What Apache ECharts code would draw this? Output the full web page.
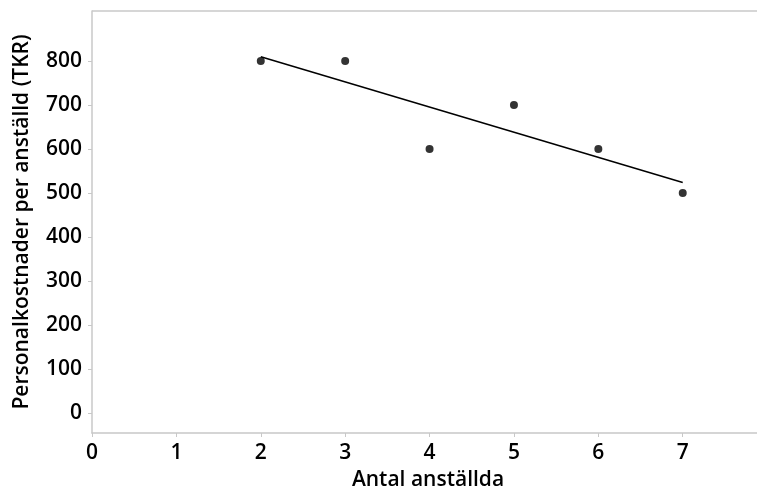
<!DOCTYPE html>
<html>
<head>
<meta charset="utf-8">
<script src="https://cdn.jsdelivr.net/npm/echarts@6/dist/echarts.min.js"></script>
<style>
  html, body { margin: 0; padding: 0; background: #fff; }
  #chart { width: 757px; height: 489px; }
</style>
</head>
<body>
<div id="chart"></div>
<script>
// antal anställda / personalkostnad per anställd
var staff = [2, 3, 4, 5, 6, 7];
var costPerStaff = [800, 800, 600, 700, 600, 500];
// fitted line (end points)
var fitX = [2, 7];
var fitY = [810, 524];
var xTicks = [0, 1, 2, 3, 4, 5, 6, 7];
var yTicks = [0, 100, 200, 300, 400, 500, 600, 700, 800];

var pts = staff.map(function (x, i) { return [x, costPerStaff[i]]; });
var line = fitX.map(function (x, i) { return [x, fitY[i]]; });

var font = '"Open Sans", sans-serif';
var grey = '#c8c8c8';

var chart = echarts.init(document.getElementById('chart'));
chart.setOption({
    animation: false,
    grid: { left: 92, top: 11, right: 0, bottom: 56, outerBoundsMode: 'none', containLabel: false },
    xAxis: {
        type: 'value',
        min: 0,
        max: 7.88,
        name: 'Antal anställda',
        nameLocation: 'middle',
        nameGap: 37,
        nameTextStyle: { fontFamily: font, fontSize: 21, fontWeight: 600, color: '#000', padding: [0, 0, 0, 7] },
        splitLine: { show: false },
        axisLine: { show: true, onZero: false, lineStyle: { color: grey, width: 1.5 } },
        axisTick: { show: true, length: 4, lineStyle: { color: grey }, customValues: xTicks },
        axisLabel: { customValues: xTicks, margin: 10, fontFamily: font, fontSize: 21, fontWeight: 600, color: '#000' }
    },
    yAxis: {
        type: 'value',
        min: -46,
        max: 914,
        name: 'Personalkostnader per anställd (TKR)',
        nameLocation: 'middle',
        nameGap: 59,
        nameTextStyle: { fontFamily: font, fontSize: 21, fontWeight: 600, color: '#000' },
        splitLine: { show: false },
        axisLine: { show: true, onZero: false, lineStyle: { color: grey, width: 1.5 } },
        axisTick: { show: true, length: 4, lineStyle: { color: grey }, customValues: yTicks },
        axisLabel: { customValues: yTicks, margin: 10, fontFamily: font, fontSize: 21, fontWeight: 600, color: '#000' }
    },
    series: [
        {
            type: 'line',
            data: line,
            showSymbol: false,
            lineStyle: { color: '#000', width: 1.5 },
            z: 2
        },
        {
            type: 'scatter',
            data: pts,
            symbolSize: 8,
            itemStyle: { color: '#000' },
            z: 3
        }
    ]
});
// top border of the plot box
chart.setOption({
    graphic: [{
        type: 'line',
        shape: { x1: 92, y1: 11, x2: 757, y2: 11 },
        style: { stroke: grey, lineWidth: 1.5 }
    }]
});
</script>
</body>
</html>
